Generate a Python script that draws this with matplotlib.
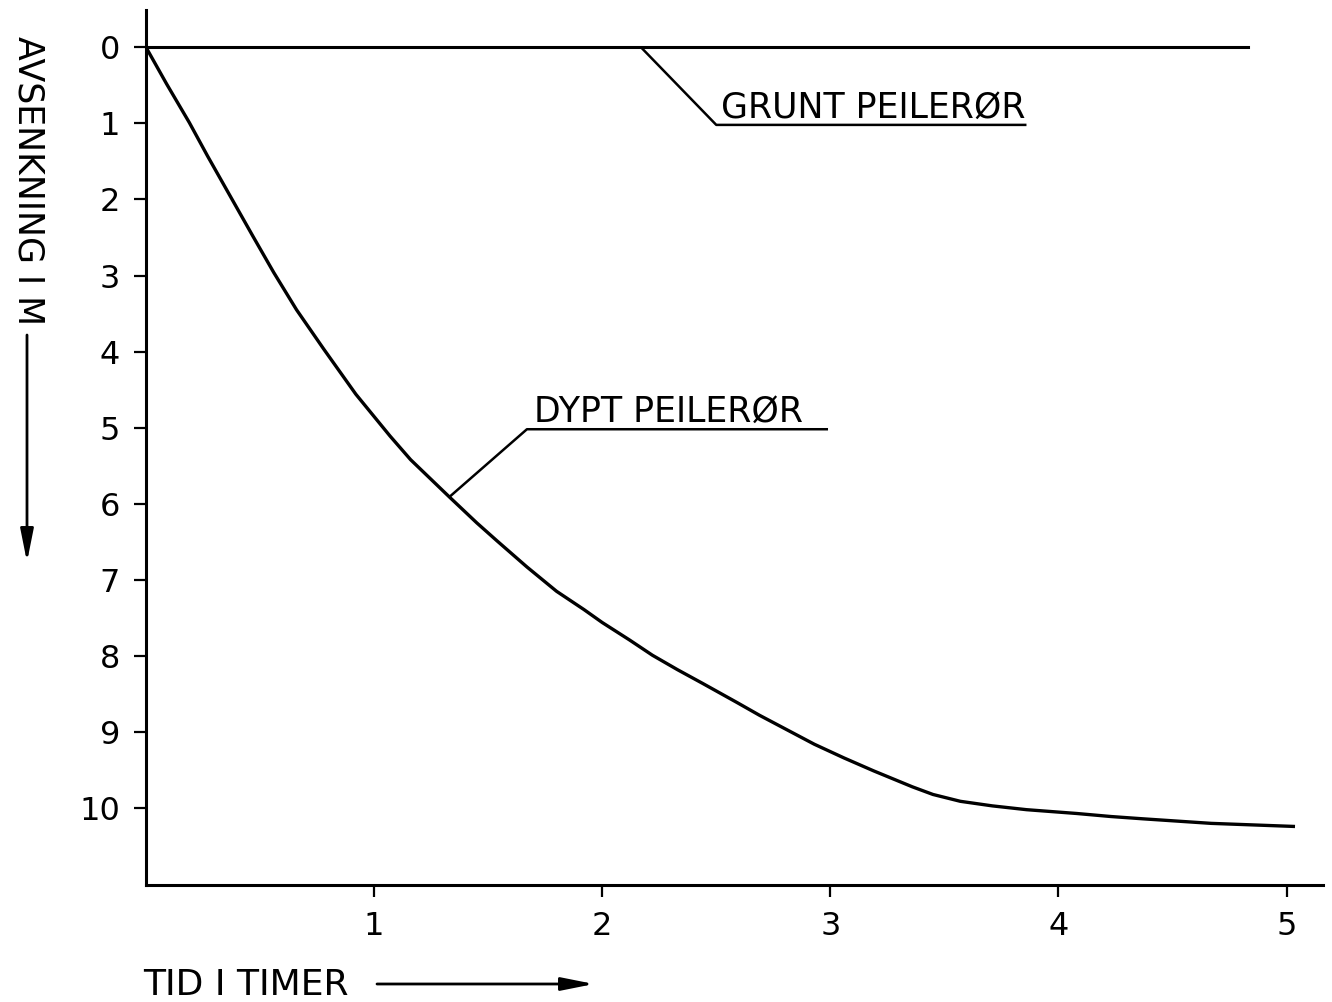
import matplotlib
matplotlib.use("Agg")
from matplotlib import pyplot as plt

# drawdown (m) in the deep observation well versus time (hours)
tid_timer = [0, 0.09, 0.19, 0.27, 0.37, 0.47, 0.56, 0.66, 0.78, 0.92, 1.07, 1.16,
             1.33, 1.45, 1.54, 1.67, 1.80, 1.92, 2.0, 2.12, 2.22, 2.33, 2.44, 2.59,
             2.69, 2.81, 2.93, 3.06, 3.19, 3.36, 3.45, 3.57, 3.71, 3.86, 4.08, 4.23,
             4.37, 4.52, 4.67, 5.03]
dypt = [0, 0.48, 0.99, 1.43, 1.96, 2.49, 2.96, 3.45, 3.97, 4.56, 5.11, 5.42,
        5.91, 6.25, 6.49, 6.83, 7.15, 7.39, 7.56, 7.79, 7.99, 8.18, 8.36, 8.61,
        8.78, 8.97, 9.16, 9.34, 9.51, 9.72, 9.82, 9.91, 9.97, 10.02, 10.07, 10.11,
        10.14, 10.17, 10.20, 10.24]

# shallow observation well: no drawdown at all
grunt_tid = [0, 4.83]
grunt = [0, 0]

x_ticks = [1, 2, 3, 4, 5]
y_ticks = [0, 1, 2, 3, 4, 5, 6, 7, 8, 9, 10]

plt.rcParams['font.family'] = ['DejaVu Sans']

W, H = 1332, 1002
fig = plt.figure(figsize=(W / 100, H / 100), dpi=100)
ax = fig.add_axes([146 / W, 1 - 885 / H, (1323 - 146) / W, (885 - 10) / H])

ax.plot(tid_timer, dypt, color='black', lw=2.4, solid_joinstyle='round')
ax.plot(grunt_tid, grunt, color='black', lw=2.2)

ax.set_xlim(0, 5.16)
ax.set_ylim(11.01, -0.49)

for side in ('top', 'right'):
    ax.spines[side].set_visible(False)
for side in ('left', 'bottom'):
    ax.spines[side].set_linewidth(2.2)

ax.set_xticks(x_ticks)
ax.set_yticks(y_ticks)
ax.tick_params(direction='out', length=8.6, width=1.6, pad=10, labelsize=23)

# leader lines with labels
lead_kw = dict(color='black', lw=1.8, solid_capstyle='butt')
ax.plot([2.17, 2.50, 3.86], [0, 1.02, 1.02], **lead_kw)
ax.text(2.52, 0.92, 'GRUNT PEILERØR', fontsize=25, ha='left', va='baseline')

ax.plot([1.33, 1.67, 2.99], [5.91, 5.02, 5.02], **lead_kw)
ax.text(1.70, 4.92, 'DYPT PEILERØR', fontsize=25, ha='left', va='baseline')

# axis titles with direction arrows
fig.text(28 / W, 1 - 181 / H, 'AVSENKNING I M', rotation=-90, fontsize=25,
         ha='center', va='center')
fig.text(143 / W, 7 / H, 'TID I TIMER', fontsize=26, ha='left', va='baseline')

arrow_kw = dict(arrowstyle='-|>,head_length=0.9,head_width=0.18', color='black',
                lw=2.0, shrinkA=0, shrinkB=0, mutation_scale=22)
ax.annotate('', xy=(27, H - 562), xytext=(27, H - 335),
            xycoords='figure pixels', textcoords='figure pixels',
            arrowprops=arrow_kw, annotation_clip=False)
ax.annotate('', xy=(594, H - 984), xytext=(377, H - 984),
            xycoords='figure pixels', textcoords='figure pixels',
            arrowprops=arrow_kw, annotation_clip=False)

fig.savefig('out.png', dpi=100)
